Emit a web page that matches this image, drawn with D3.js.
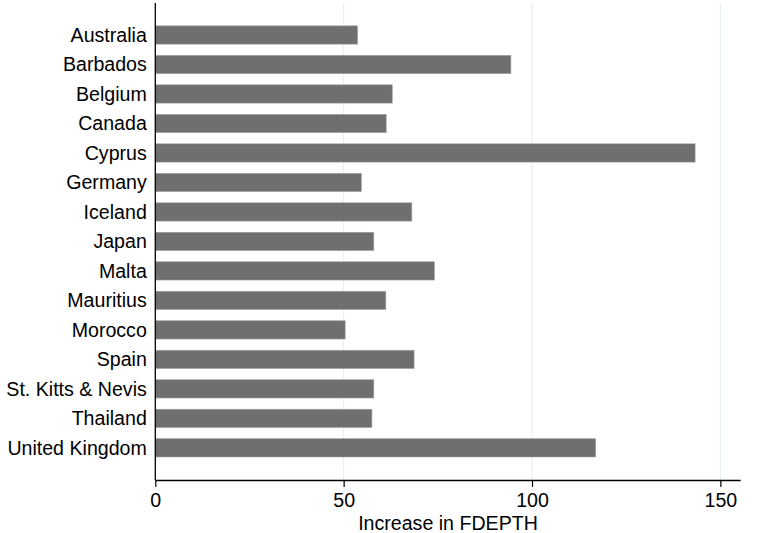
<!DOCTYPE html>
<html><head><meta charset="utf-8">
<script src="https://cdn.jsdelivr.net/npm/d3@7"></script>
<style>body{margin:0;background:#fff}svg{display:block}text{font-family:"Liberation Sans",Arial,sans-serif;fill:#000}</style>
</head><body>
<script>
const countries = ["Australia","Barbados","Belgium","Canada","Cyprus","Germany","Iceland","Japan","Malta","Mauritius","Morocco","Spain","St. Kitts & Nevis","Thailand","United Kingdom"];
const increase = [53.7,94.4,62.9,61.3,143.3,54.7,68.1,58.0,74.1,61.2,50.4,68.7,58.0,57.5,116.9];
const xTicks = [0,50,100,150];
const xTitle = "Increase in FDEPTH";

(function(){
const W = 759, H = 533, FS = 19.6;
const pL = 155.3, pR = 740.7, pT = 3, pB = 480;
const svg = d3.select("body").append("svg").attr("width", W).attr("height", H);

const x = d3.scaleLinear().domain([0,155.4]).range([pL, pR]);
const step = (447.85 - 35) / (countries.length - 1);
const y = d3.scaleBand().domain(countries)
  .range([35 - step/2, 447.85 + step/2]).paddingInner(0.38).paddingOuter(0.19);

// grid
svg.append("g").selectAll("line").data(xTicks.filter(d => d > 0)).join("line")
  .attr("x1", d => x(d)).attr("x2", d => x(d)).attr("y1", pT).attr("y2", pB)
  .attr("stroke", "#e4edf0").attr("stroke-width", 1);

// bars
svg.append("g").selectAll("rect").data(countries).join("rect")
  .attr("x", x(0)).attr("y", d => y(d))
  .attr("width", (d,i) => x(increase[i]) - x(0)).attr("height", y.bandwidth())
  .attr("fill", "#6f6f6f").attr("stroke", "#a2a2a2").attr("stroke-width", 0.6);

// y axis
const yAxis = svg.append("g").attr("transform", `translate(${pL},0)`)
  .call(d3.axisLeft(y).tickSize(0).tickPadding(8.5));
yAxis.select(".domain").remove();
yAxis.selectAll("text").attr("font-size", FS).attr("font-family", "Liberation Sans, Arial, sans-serif").attr("dy", "0.345em");
svg.append("line").attr("x1", pL).attr("x2", pL).attr("y1", pT).attr("y2", pB)
  .attr("stroke", "#000").attr("stroke-width", 1.3);

// x axis
const xAxis = svg.append("g").attr("transform", `translate(0,${pB})`)
  .call(d3.axisBottom(x).tickValues(xTicks).tickFormat(d3.format("d")).tickSize(7).tickPadding(5.8).tickSizeOuter(0));
xAxis.select(".domain").attr("stroke-width", 1.3).attr("d", `M${pL},0.5H${pR}`);
xAxis.selectAll(".tick line").attr("stroke-width", 1.2);
xAxis.selectAll("text").attr("font-size", FS).attr("font-family", "Liberation Sans, Arial, sans-serif");

svg.append("text").attr("x", (pL + pR) / 2).attr("y", 530)
  .attr("text-anchor", "middle").attr("font-size", FS).text(xTitle);
})();
</script>
</body></html>
